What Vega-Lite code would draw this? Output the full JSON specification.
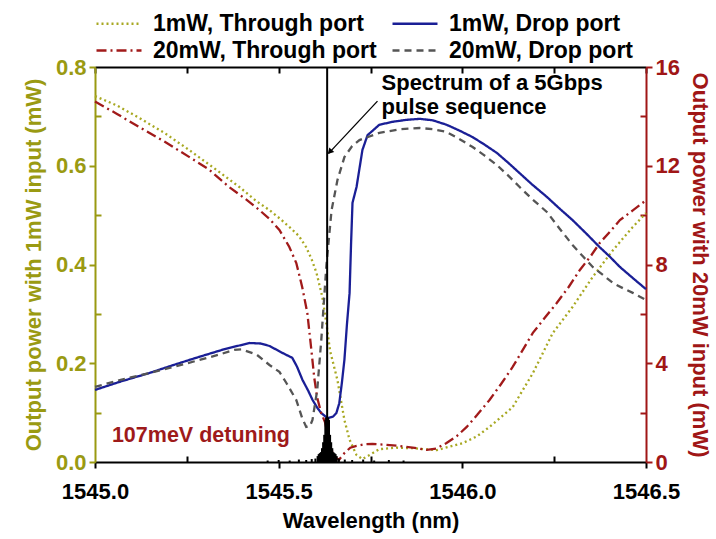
{
  "$schema": "https://vega.github.io/schema/vega-lite/v6.json",
  "width": 551,
  "height": 395,
  "padding": {"left": 22, "top": 12, "right": 0, "bottom": 2},
  "background": "white",
  "config": {
    "view": {"stroke": null},
    "font": "Liberation Sans",
    "axis": {
      "grid": false,
      "labelFont": "Liberation Sans",
      "labelFontWeight": "bold",
      "labelFontSize": 22,
      "labelFlush": false,
      "titleFont": "Liberation Sans",
      "titleFontWeight": "bold",
      "titleFontSize": 22,
      "domainWidth": 2,
      "tickWidth": 2,
      "labelPadding": 3,
      "labelOverlap": false
    },
    "legend": {
      "orient": "none",
      "direction": "horizontal",
      "legendX": -1,
      "legendY": -55,
      "padding": 0,
      "columns": 2,
      "labelFont": "Liberation Sans",
      "labelFontSize": 23,
      "labelFontWeight": "bold",
      "labelColor": "black",
      "labelLimit": 400,
      "labelOffset": 36,
      "symbolType": "M-1,0H4",
      "symbolSize": 324,
      "symbolStrokeWidth": 2.5,
      "columnPadding": 10,
      "rowPadding": 3
    }
  },
  "datasets": {
    "oneMilliwatt": [
      {"wl": 1545.000, "p": 0.741, "series": "1mW, Through port"},
      {"wl": 1545.060, "p": 0.722, "series": "1mW, Through port"},
      {"wl": 1545.120, "p": 0.697, "series": "1mW, Through port"},
      {"wl": 1545.190, "p": 0.666, "series": "1mW, Through port"},
      {"wl": 1545.256, "p": 0.632, "series": "1mW, Through port"},
      {"wl": 1545.330, "p": 0.592, "series": "1mW, Through port"},
      {"wl": 1545.393, "p": 0.557, "series": "1mW, Through port"},
      {"wl": 1545.440, "p": 0.528, "series": "1mW, Through port"},
      {"wl": 1545.475, "p": 0.510, "series": "1mW, Through port"},
      {"wl": 1545.505, "p": 0.492, "series": "1mW, Through port"},
      {"wl": 1545.529, "p": 0.476, "series": "1mW, Through port"},
      {"wl": 1545.555, "p": 0.458, "series": "1mW, Through port"},
      {"wl": 1545.575, "p": 0.435, "series": "1mW, Through port"},
      {"wl": 1545.590, "p": 0.410, "series": "1mW, Through port"},
      {"wl": 1545.603, "p": 0.383, "series": "1mW, Through port"},
      {"wl": 1545.619, "p": 0.334, "series": "1mW, Through port"},
      {"wl": 1545.630, "p": 0.280, "series": "1mW, Through port"},
      {"wl": 1545.640, "p": 0.225, "series": "1mW, Through port"},
      {"wl": 1545.660, "p": 0.166, "series": "1mW, Through port"},
      {"wl": 1545.679, "p": 0.085, "series": "1mW, Through port"},
      {"wl": 1545.693, "p": 0.045, "series": "1mW, Through port"},
      {"wl": 1545.712, "p": 0.014, "series": "1mW, Through port"},
      {"wl": 1545.728, "p": 0.006, "series": "1mW, Through port"},
      {"wl": 1545.747, "p": 0.014, "series": "1mW, Through port"},
      {"wl": 1545.774, "p": 0.026, "series": "1mW, Through port"},
      {"wl": 1545.820, "p": 0.029, "series": "1mW, Through port"},
      {"wl": 1545.864, "p": 0.028, "series": "1mW, Through port"},
      {"wl": 1545.930, "p": 0.024, "series": "1mW, Through port"},
      {"wl": 1546.000, "p": 0.038, "series": "1mW, Through port"},
      {"wl": 1546.040, "p": 0.052, "series": "1mW, Through port"},
      {"wl": 1546.074, "p": 0.071, "series": "1mW, Through port"},
      {"wl": 1546.137, "p": 0.111, "series": "1mW, Through port"},
      {"wl": 1546.192, "p": 0.180, "series": "1mW, Through port"},
      {"wl": 1546.246, "p": 0.261, "series": "1mW, Through port"},
      {"wl": 1546.300, "p": 0.314, "series": "1mW, Through port"},
      {"wl": 1546.355, "p": 0.375, "series": "1mW, Through port"},
      {"wl": 1546.410, "p": 0.429, "series": "1mW, Through port"},
      {"wl": 1546.464, "p": 0.476, "series": "1mW, Through port"},
      {"wl": 1546.500, "p": 0.504, "series": "1mW, Through port"},

      {"wl": 1545.000, "p": 0.146, "series": "1mW, Drop port"},
      {"wl": 1545.070, "p": 0.163, "series": "1mW, Drop port"},
      {"wl": 1545.147, "p": 0.180, "series": "1mW, Drop port"},
      {"wl": 1545.220, "p": 0.198, "series": "1mW, Drop port"},
      {"wl": 1545.284, "p": 0.213, "series": "1mW, Drop port"},
      {"wl": 1545.350, "p": 0.228, "series": "1mW, Drop port"},
      {"wl": 1545.420, "p": 0.241, "series": "1mW, Drop port"},
      {"wl": 1545.450, "p": 0.240, "series": "1mW, Drop port"},
      {"wl": 1545.475, "p": 0.235, "series": "1mW, Drop port"},
      {"wl": 1545.510, "p": 0.221, "series": "1mW, Drop port"},
      {"wl": 1545.537, "p": 0.211, "series": "1mW, Drop port"},
      {"wl": 1545.550, "p": 0.193, "series": "1mW, Drop port"},
      {"wl": 1545.565, "p": 0.166, "series": "1mW, Drop port"},
      {"wl": 1545.580, "p": 0.145, "series": "1mW, Drop port"},
      {"wl": 1545.592, "p": 0.126, "series": "1mW, Drop port"},
      {"wl": 1545.605, "p": 0.110, "series": "1mW, Drop port"},
      {"wl": 1545.616, "p": 0.099, "series": "1mW, Drop port"},
      {"wl": 1545.633, "p": 0.089, "series": "1mW, Drop port"},
      {"wl": 1545.648, "p": 0.092, "series": "1mW, Drop port"},
      {"wl": 1545.657, "p": 0.099, "series": "1mW, Drop port"},
      {"wl": 1545.665, "p": 0.119, "series": "1mW, Drop port"},
      {"wl": 1545.672, "p": 0.160, "series": "1mW, Drop port"},
      {"wl": 1545.679, "p": 0.207, "series": "1mW, Drop port"},
      {"wl": 1545.686, "p": 0.280, "series": "1mW, Drop port"},
      {"wl": 1545.693, "p": 0.342, "series": "1mW, Drop port"},
      {"wl": 1545.697, "p": 0.440, "series": "1mW, Drop port"},
      {"wl": 1545.701, "p": 0.525, "series": "1mW, Drop port"},
      {"wl": 1545.712, "p": 0.557, "series": "1mW, Drop port"},
      {"wl": 1545.728, "p": 0.632, "series": "1mW, Drop port"},
      {"wl": 1545.742, "p": 0.662, "series": "1mW, Drop port"},
      {"wl": 1545.774, "p": 0.683, "series": "1mW, Drop port"},
      {"wl": 1545.810, "p": 0.689, "series": "1mW, Drop port"},
      {"wl": 1545.848, "p": 0.693, "series": "1mW, Drop port"},
      {"wl": 1545.884, "p": 0.695, "series": "1mW, Drop port"},
      {"wl": 1545.920, "p": 0.692, "series": "1mW, Drop port"},
      {"wl": 1545.957, "p": 0.683, "series": "1mW, Drop port"},
      {"wl": 1545.990, "p": 0.672, "series": "1mW, Drop port"},
      {"wl": 1546.028, "p": 0.658, "series": "1mW, Drop port"},
      {"wl": 1546.060, "p": 0.643, "series": "1mW, Drop port"},
      {"wl": 1546.094, "p": 0.626, "series": "1mW, Drop port"},
      {"wl": 1546.125, "p": 0.606, "series": "1mW, Drop port"},
      {"wl": 1546.156, "p": 0.585, "series": "1mW, Drop port"},
      {"wl": 1546.190, "p": 0.562, "series": "1mW, Drop port"},
      {"wl": 1546.230, "p": 0.537, "series": "1mW, Drop port"},
      {"wl": 1546.265, "p": 0.513, "series": "1mW, Drop port"},
      {"wl": 1546.300, "p": 0.490, "series": "1mW, Drop port"},
      {"wl": 1546.337, "p": 0.463, "series": "1mW, Drop port"},
      {"wl": 1546.374, "p": 0.435, "series": "1mW, Drop port"},
      {"wl": 1546.400, "p": 0.417, "series": "1mW, Drop port"},
      {"wl": 1546.429, "p": 0.395, "series": "1mW, Drop port"},
      {"wl": 1546.465, "p": 0.372, "series": "1mW, Drop port"},
      {"wl": 1546.500, "p": 0.350, "series": "1mW, Drop port"}
    ],
    "twentyMilliwatt": [
      {"wl": 1545.000, "p": 14.60, "series": "20mW, Through port"},
      {"wl": 1545.060, "p": 14.10, "series": "20mW, Through port"},
      {"wl": 1545.120, "p": 13.57, "series": "20mW, Through port"},
      {"wl": 1545.190, "p": 12.97, "series": "20mW, Through port"},
      {"wl": 1545.256, "p": 12.36, "series": "20mW, Through port"},
      {"wl": 1545.310, "p": 11.85, "series": "20mW, Through port"},
      {"wl": 1545.365, "p": 11.14, "series": "20mW, Through port"},
      {"wl": 1545.410, "p": 10.65, "series": "20mW, Through port"},
      {"wl": 1545.447, "p": 10.21, "series": "20mW, Through port"},
      {"wl": 1545.475, "p": 9.85, "series": "20mW, Through port"},
      {"wl": 1545.502, "p": 9.40, "series": "20mW, Through port"},
      {"wl": 1545.529, "p": 8.71, "series": "20mW, Through port"},
      {"wl": 1545.548, "p": 8.06, "series": "20mW, Through port"},
      {"wl": 1545.564, "p": 7.09, "series": "20mW, Through port"},
      {"wl": 1545.578, "p": 6.04, "series": "20mW, Through port"},
      {"wl": 1545.589, "p": 4.54, "series": "20mW, Through port"},
      {"wl": 1545.597, "p": 3.40, "series": "20mW, Through port"},
      {"wl": 1545.605, "p": 2.60, "series": "20mW, Through port"},
      {"wl": 1545.616, "p": 1.98, "series": "20mW, Through port"},
      {"wl": 1545.626, "p": 1.62, "series": "20mW, Through port"},
      {"wl": 1545.635, "p": 1.00, "series": "20mW, Through port"},
      {"wl": 1545.650, "p": 0.20, "series": "20mW, Through port"},
      {"wl": 1545.665, "p": 0.10, "series": "20mW, Through port"},
      {"wl": 1545.679, "p": 0.36, "series": "20mW, Through port"},
      {"wl": 1545.695, "p": 0.58, "series": "20mW, Through port"},
      {"wl": 1545.712, "p": 0.65, "series": "20mW, Through port"},
      {"wl": 1545.735, "p": 0.72, "series": "20mW, Through port"},
      {"wl": 1545.755, "p": 0.73, "series": "20mW, Through port"},
      {"wl": 1545.790, "p": 0.70, "series": "20mW, Through port"},
      {"wl": 1545.829, "p": 0.65, "series": "20mW, Through port"},
      {"wl": 1545.870, "p": 0.57, "series": "20mW, Through port"},
      {"wl": 1545.903, "p": 0.49, "series": "20mW, Through port"},
      {"wl": 1545.930, "p": 0.55, "series": "20mW, Through port"},
      {"wl": 1545.957, "p": 0.77, "series": "20mW, Through port"},
      {"wl": 1545.985, "p": 1.05, "series": "20mW, Through port"},
      {"wl": 1546.012, "p": 1.42, "series": "20mW, Through port"},
      {"wl": 1546.040, "p": 1.90, "series": "20mW, Through port"},
      {"wl": 1546.074, "p": 2.51, "series": "20mW, Through port"},
      {"wl": 1546.105, "p": 3.15, "series": "20mW, Through port"},
      {"wl": 1546.137, "p": 3.85, "series": "20mW, Through port"},
      {"wl": 1546.165, "p": 4.55, "series": "20mW, Through port"},
      {"wl": 1546.192, "p": 5.23, "series": "20mW, Through port"},
      {"wl": 1546.225, "p": 5.85, "series": "20mW, Through port"},
      {"wl": 1546.257, "p": 6.44, "series": "20mW, Through port"},
      {"wl": 1546.290, "p": 7.10, "series": "20mW, Through port"},
      {"wl": 1546.320, "p": 7.78, "series": "20mW, Through port"},
      {"wl": 1546.350, "p": 8.35, "series": "20mW, Through port"},
      {"wl": 1546.374, "p": 8.87, "series": "20mW, Through port"},
      {"wl": 1546.400, "p": 9.30, "series": "20mW, Through port"},
      {"wl": 1546.429, "p": 9.80, "series": "20mW, Through port"},
      {"wl": 1546.465, "p": 10.20, "series": "20mW, Through port"},
      {"wl": 1546.500, "p": 10.60, "series": "20mW, Through port"},

      {"wl": 1545.000, "p": 3.04, "series": "20mW, Drop port"},
      {"wl": 1545.070, "p": 3.33, "series": "20mW, Drop port"},
      {"wl": 1545.147, "p": 3.60, "series": "20mW, Drop port"},
      {"wl": 1545.220, "p": 3.88, "series": "20mW, Drop port"},
      {"wl": 1545.284, "p": 4.13, "series": "20mW, Drop port"},
      {"wl": 1545.340, "p": 4.36, "series": "20mW, Drop port"},
      {"wl": 1545.379, "p": 4.54, "series": "20mW, Drop port"},
      {"wl": 1545.400, "p": 4.56, "series": "20mW, Drop port"},
      {"wl": 1545.440, "p": 4.35, "series": "20mW, Drop port"},
      {"wl": 1545.475, "p": 3.93, "series": "20mW, Drop port"},
      {"wl": 1545.502, "p": 3.65, "series": "20mW, Drop port"},
      {"wl": 1545.521, "p": 3.20, "series": "20mW, Drop port"},
      {"wl": 1545.548, "p": 2.51, "series": "20mW, Drop port"},
      {"wl": 1545.564, "p": 1.78, "series": "20mW, Drop port"},
      {"wl": 1545.575, "p": 1.42, "series": "20mW, Drop port"},
      {"wl": 1545.585, "p": 1.45, "series": "20mW, Drop port"},
      {"wl": 1545.592, "p": 1.70, "series": "20mW, Drop port"},
      {"wl": 1545.605, "p": 2.92, "series": "20mW, Drop port"},
      {"wl": 1545.616, "p": 4.94, "series": "20mW, Drop port"},
      {"wl": 1545.630, "p": 7.98, "series": "20mW, Drop port"},
      {"wl": 1545.644, "p": 10.20, "series": "20mW, Drop port"},
      {"wl": 1545.660, "p": 11.42, "series": "20mW, Drop port"},
      {"wl": 1545.679, "p": 12.35, "series": "20mW, Drop port"},
      {"wl": 1545.700, "p": 12.80, "series": "20mW, Drop port"},
      {"wl": 1545.720, "p": 13.04, "series": "20mW, Drop port"},
      {"wl": 1545.774, "p": 13.33, "series": "20mW, Drop port"},
      {"wl": 1545.830, "p": 13.48, "series": "20mW, Drop port"},
      {"wl": 1545.884, "p": 13.53, "series": "20mW, Drop port"},
      {"wl": 1545.920, "p": 13.48, "series": "20mW, Drop port"},
      {"wl": 1545.957, "p": 13.37, "series": "20mW, Drop port"},
      {"wl": 1545.990, "p": 13.10, "series": "20mW, Drop port"},
      {"wl": 1546.028, "p": 12.76, "series": "20mW, Drop port"},
      {"wl": 1546.060, "p": 12.42, "series": "20mW, Drop port"},
      {"wl": 1546.094, "p": 12.03, "series": "20mW, Drop port"},
      {"wl": 1546.125, "p": 11.60, "series": "20mW, Drop port"},
      {"wl": 1546.156, "p": 11.14, "series": "20mW, Drop port"},
      {"wl": 1546.190, "p": 10.65, "series": "20mW, Drop port"},
      {"wl": 1546.230, "p": 10.13, "series": "20mW, Drop port"},
      {"wl": 1546.265, "p": 9.45, "series": "20mW, Drop port"},
      {"wl": 1546.300, "p": 8.79, "series": "20mW, Drop port"},
      {"wl": 1546.330, "p": 8.30, "series": "20mW, Drop port"},
      {"wl": 1546.355, "p": 7.90, "series": "20mW, Drop port"},
      {"wl": 1546.385, "p": 7.55, "series": "20mW, Drop port"},
      {"wl": 1546.410, "p": 7.25, "series": "20mW, Drop port"},
      {"wl": 1546.440, "p": 7.02, "series": "20mW, Drop port"},
      {"wl": 1546.464, "p": 6.85, "series": "20mW, Drop port"},
      {"wl": 1546.500, "p": 6.56, "series": "20mW, Drop port"}
    ],
    "pulseSpectrum": [
      {"wl": 1545.470, "p": 0.003},
      {"wl": 1545.500, "p": 0.004},
      {"wl": 1545.530, "p": 0.003},
      {"wl": 1545.555, "p": 0.005},
      {"wl": 1545.575, "p": 0.004},
      {"wl": 1545.590, "p": 0.006},
      {"wl": 1545.600, "p": 0.007},
      {"wl": 1545.606, "p": 0.012},
      {"wl": 1545.609, "p": 0.016},
      {"wl": 1545.612, "p": 0.018},
      {"wl": 1545.615, "p": 0.020},
      {"wl": 1545.618, "p": 0.028},
      {"wl": 1545.621, "p": 0.040},
      {"wl": 1545.624, "p": 0.055},
      {"wl": 1545.627, "p": 0.085},
      {"wl": 1545.629, "p": 0.090},
      {"wl": 1545.632, "p": 0.800},
      {"wl": 1545.635, "p": 0.090},
      {"wl": 1545.637, "p": 0.085},
      {"wl": 1545.640, "p": 0.055},
      {"wl": 1545.643, "p": 0.040},
      {"wl": 1545.646, "p": 0.028},
      {"wl": 1545.649, "p": 0.020},
      {"wl": 1545.652, "p": 0.018},
      {"wl": 1545.655, "p": 0.016},
      {"wl": 1545.658, "p": 0.012},
      {"wl": 1545.664, "p": 0.007},
      {"wl": 1545.680, "p": 0.005},
      {"wl": 1545.700, "p": 0.004},
      {"wl": 1545.730, "p": 0.005},
      {"wl": 1545.760, "p": 0.003},
      {"wl": 1545.800, "p": 0.004},
      {"wl": 1545.840, "p": 0.003}
    ]
  },
  "layer": [
    {
      "data": {"name": "oneMilliwatt"},
      "mark": {"type": "line", "strokeWidth": 2.3},
      "encoding": {
        "x": {
          "field": "wl", "type": "quantitative",
          "scale": {"domain": [1545, 1546.5], "nice": false, "zero": false},
          "axis": {
            "orient": "bottom",
            "title": "Wavelength (nm)",
            "titleColor": "black",
            "titlePadding": 8,
            "labelPadding": 13,
            "values": [1545, 1545.25, 1545.5, 1545.75, 1546, 1546.25, 1546.5],
            "labelExpr": "round(datum.value * 4) % 2 == 0 ? format(datum.value, '.1f') : ''",
            "labelColor": "black",
            "domainColor": "black",
            "tickColor": "black",
            "tickSize": {"condition": {"test": "round(datum.value * 4) % 2 == 0", "value": 6}, "value": -6}
          }
        },
        "y": {
          "field": "p", "type": "quantitative",
          "scale": {"domain": [0, 0.8], "nice": false},
          "axis": {
            "orient": "left",
            "title": "Output power with 1mW input (mW)",
            "titleColor": "#9a9a12",
            "titlePadding": 10,
            "values": [0, 0.1, 0.2, 0.3, 0.4, 0.5, 0.6, 0.7, 0.8],
            "labelExpr": "round(datum.value * 10) % 2 == 0 ? format(datum.value, '.1f') : ''",
            "labelColor": "#9a9a12",
            "domainColor": "#9a9a12",
            "tickColor": "#9a9a12",
            "tickSize": {"condition": {"test": "round(datum.value * 10) % 2 == 0", "value": 6}, "value": -6}
          }
        },
        "color": {
          "field": "series", "type": "nominal",
          "scale": {
            "domain": ["1mW, Through port", "1mW, Drop port", "20mW, Through port", "20mW, Drop port"],
            "range": ["#a8a822", "#1a1f96", "#a11a1a", "#555555"]
          },
          "legend": {"title": null}
        },
        "strokeDash": {
          "field": "series", "type": "nominal",
          "scale": {
            "domain": ["1mW, Through port", "1mW, Drop port", "20mW, Through port", "20mW, Drop port"],
            "range": [[2, 3], [1, 0], [10, 4, 2, 4], [7, 5]]
          },
          "legend": {"title": null}
        }
      }
    },
    {
      "data": {"name": "twentyMilliwatt"},
      "mark": {"type": "line", "strokeWidth": 2.3},
      "encoding": {
        "x": {
          "field": "wl", "type": "quantitative",
          "axis": {
            "orient": "top",
            "title": null,
            "labels": false,
            "values": [1545, 1545.25, 1545.5, 1545.75, 1546, 1546.25, 1546.5],
            "domainColor": "black",
            "tickColor": "black",
            "tickSize": -6
          }
        },
        "y": {
          "field": "p", "type": "quantitative",
          "scale": {"domain": [0, 16], "nice": false},
          "axis": {
            "orient": "right",
            "title": "Output power with 20mW input (mW)",
            "titleColor": "#a01616",
            "titlePadding": 8,
            "values": [0, 2, 4, 6, 8, 10, 12, 14, 16],
            "labelExpr": "datum.value % 4 == 0 ? datum.value : ''",
            "labelColor": "#a01616",
            "domainColor": "#a01616",
            "tickColor": "#a01616",
            "tickSize": {"condition": {"test": "datum.value % 4 == 0", "value": 6}, "value": -6}
          }
        },
        "color": {"field": "series", "type": "nominal"},
        "strokeDash": {"field": "series", "type": "nominal"}
      }
    },
    {
      "data": {"name": "pulseSpectrum"},
      "mark": {"type": "rule", "color": "black", "strokeWidth": 2},
      "encoding": {
        "x": {"field": "wl", "type": "quantitative", "axis": null},
        "y": {"field": "p", "type": "quantitative", "scale": {"domain": [0, 0.8], "nice": false}, "axis": null},
        "y2": {"datum": 0}
      }
    },
    {
      "data": {"values": [{"wl": 1545.769, "p": 0.731, "wl2": 1545.636, "p2": 0.625}]},
      "mark": {"type": "rule", "color": "black", "strokeWidth": 1.3},
      "encoding": {
        "x": {"field": "wl", "type": "quantitative", "axis": null},
        "y": {"field": "p", "type": "quantitative", "scale": {"domain": [0, 0.8], "nice": false}, "axis": null},
        "x2": {"field": "wl2"},
        "y2": {"field": "p2"}
      }
    },
    {
      "data": {"values": [{"wl": 1545.641, "p": 0.6295}]},
      "mark": {"type": "point", "shape": "triangle", "filled": true, "color": "black", "size": 45, "angle": 223, "opacity": 1},
      "encoding": {
        "x": {"field": "wl", "type": "quantitative", "axis": null},
        "y": {"field": "p", "type": "quantitative", "scale": {"domain": [0, 0.8], "nice": false}, "axis": null}
      }
    },
    {
      "data": {"values": [{"wl": 1545.78, "p": 0.7534, "label": ["Spectrum of a 5Gbps", "pulse sequence"]}]},
      "mark": {"type": "text", "align": "left", "baseline": "alphabetic", "font": "Liberation Sans", "fontWeight": "bold", "fontSize": 22, "lineHeight": 24, "color": "black"},
      "encoding": {
        "x": {"field": "wl", "type": "quantitative", "axis": null},
        "y": {"field": "p", "type": "quantitative", "scale": {"domain": [0, 0.8], "nice": false}, "axis": null},
        "text": {"field": "label"}
      }
    },
    {
      "data": {"values": [{"wl": 1545.046, "p": 0.0405, "label": "107meV detuning"}]},
      "mark": {"type": "text", "align": "left", "baseline": "alphabetic", "font": "Liberation Sans", "fontWeight": "bold", "fontSize": 21.5, "color": "#9e1a1a"},
      "encoding": {
        "x": {"field": "wl", "type": "quantitative", "axis": null},
        "y": {"field": "p", "type": "quantitative", "scale": {"domain": [0, 0.8], "nice": false}, "axis": null},
        "text": {"field": "label"}
      }
    }
  ],
  "resolve": {"scale": {"y": "independent"}, "axis": {"x": "independent"}}
}
